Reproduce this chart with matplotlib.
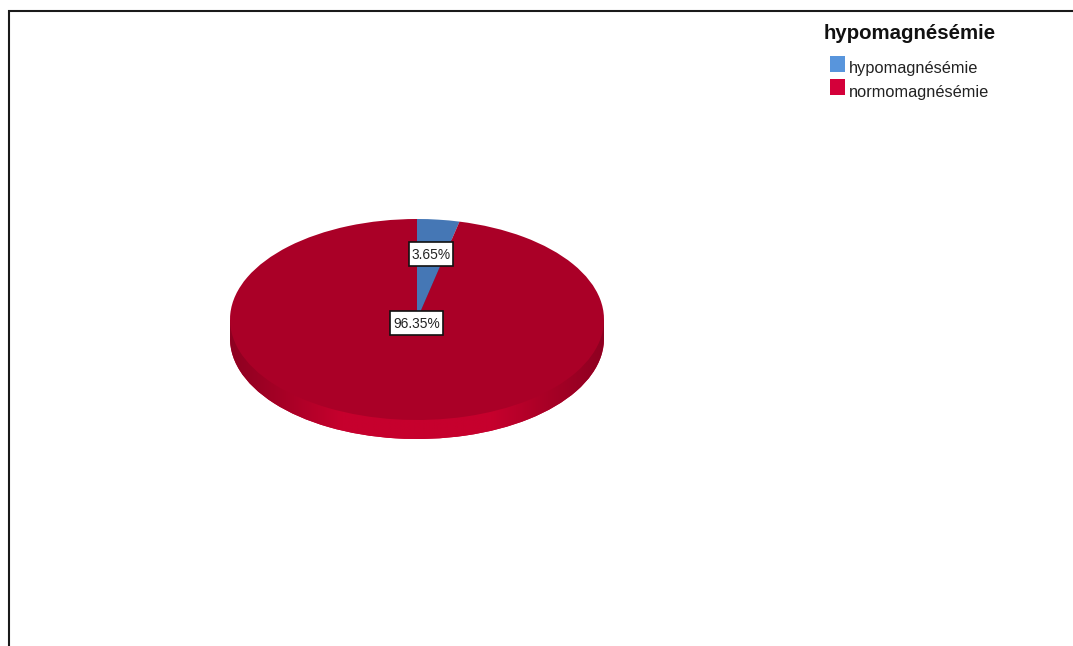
#!/usr/bin/env python3
# -*- coding: utf-8 -*-

import matplotlib
matplotlib.use('Agg')
import matplotlib.pyplot as plt
import numpy as np
from matplotlib.colors import LinearSegmentedColormap
from matplotlib.legend_handler import HandlerPatch
from matplotlib.patches import Patch, Rectangle

plt.rcParams['font.family'] = ['Liberation Sans', 'DejaVu Sans']

# Data
categories = ['hypomagnésémie', 'normomagnésémie']
percentages = [3.65, 96.35]
legend_title = 'hypomagnésémie'

W, H = 1073, 646
fig = plt.figure(figsize=(W / 100, H / 100), dpi=100, facecolor='white')


def pixel_axes(left, top, right, bottom):
    return fig.add_axes([left / W, 1 - bottom / H, (right - left) / W, (bottom - top) / H])


def legend_swatch(legend, orig_handle, xdescent, ydescent, width, height, fontsize):
    # swatch sits a little higher than the label, as in the original
    return Rectangle((-xdescent, 0.1 * fontsize), width, 0.98 * fontsize)


# Background layer in pixel coordinates, for the frame
bg = fig.add_axes([0, 0, 1, 1])
bg.set_xlim(0, W)
bg.set_ylim(H, 0)
bg.axis('off')
bg.plot([9, 9, W], [H, 11, 11], color='#1a1a1a', lw=1.5, solid_joinstyle='miter')

# Side wall of the 3D pie: lower copy of the pie, shaded with a gradient
wall_ax = pixel_axes(230, 238, 604, 439)
wall_ax.patch.set_alpha(0)
wedges, _ = wall_ax.pie(percentages, startangle=90, counterclock=False,
                        colors=['#3a659c', '#c4002d'], radius=1, frame=False)
wall_ax.set_aspect('auto')
wall_ax.set_xlim(-1, 1)
wall_ax.set_ylim(-1, 1)
wall_cmap = LinearSegmentedColormap.from_list('wall', ['#8e0021', '#a80026', '#c6002d'])
shade = (1 - np.abs(np.linspace(-1, 1, 400)))[None, :]
# the wall also runs straight down from the widest point of the top face
side = Rectangle((-1, 0), 2, 19 / 100.5, transform=wall_ax.transData)
for clip in [wedges[1], side]:
    img = wall_ax.imshow(shade, extent=(-1, 1, -1, 1), cmap=wall_cmap, aspect='auto',
                         vmin=0, vmax=0.6, zorder=2)
    img.set_clip_path(clip)
wall_ax.set_xlim(-1, 1)
wall_ax.set_ylim(-1, 1)

# Top face
top_ax = pixel_axes(230, 219, 604, 420)
top_ax.patch.set_alpha(0)
top_ax.pie(percentages, startangle=90, counterclock=False,
           colors=['#4577b5', '#aa0027'], radius=1, frame=False)
top_ax.set_aspect('auto')
top_ax.set_xlim(-1, 1)
top_ax.set_ylim(-1, 1)

# Value labels
label_xy = [(430.7, 254), (416.3, 323)]
box_w = [44, 52.5]
box_h = 23.5
fg = fig.add_axes([0, 0, 1, 1])
fg.patch.set_alpha(0)
fg.set_xlim(0, W)
fg.set_ylim(H, 0)
fg.axis('off')
for pct, (x, y), w in zip(percentages, label_xy, box_w):
    fg.add_patch(Rectangle((x - w / 2, y - box_h / 2), w, box_h, facecolor='white',
                           edgecolor='#111111', linewidth=1.2))
    fg.text(x, y + 1, f'{pct:.2f}%', ha='center', va='center', fontsize=9.9, color='#222222')

# Legend
fg.text(824, 33.5, legend_title, ha='left', va='center', fontsize=14.7, fontweight='bold', color='#111111')
handles = [Patch(facecolor=c, edgecolor='none') for c in ['#5895dc', '#d4003a']]
leg = fg.legend(handles, categories, loc='upper left',
                bbox_to_anchor=(830 / W, 1 - 59 / H), bbox_transform=fig.transFigure,
                frameon=False, fontsize=11.8, borderpad=0, borderaxespad=0,
                handlelength=0.92, handleheight=1.3, handletextpad=0.25, labelspacing=0.32,
                handler_map={Patch: HandlerPatch(patch_func=legend_swatch)})
for t in leg.get_texts():
    t.set_color('#222222')

plt.savefig('out.png', dpi=100)
